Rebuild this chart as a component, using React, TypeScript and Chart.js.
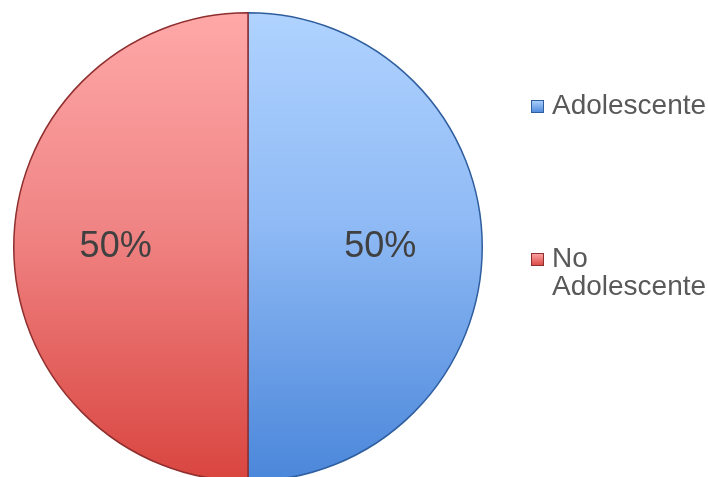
import React, { useEffect, useRef } from "react";
import { Chart, registerables } from "chart.js";

Chart.register(...registerables);

const categories = ["Adolescente", "No Adolescente"];
const values = [50, 50];
const valueLabels = ["50%", "50%"];
const legendLines = [["Adolescente"], ["No", "Adolescente"]];

const gradStops = [
  ["#b0d3ff", "#8fbaf5", "#4a86da"],
  ["#ffa8a8", "#f08585", "#d9453f"],
];
const edgeColors = ["#2f5e9e", "#8e2e2e"];

export default function App() {
  const ref = useRef<HTMLCanvasElement | null>(null);

  useEffect(() => {
    const canvas = ref.current!;
    const labelPlugin = {
      id: "pctLabels",
      afterDatasetsDraw(chart: any) {
        const ctx = chart.ctx;
        const meta = chart.getDatasetMeta(0);
        ctx.save();
        ctx.font = '36px "Liberation Sans", Arial, sans-serif';
        ctx.fillStyle = "#404040";
        ctx.textAlign = "center";
        ctx.textBaseline = "middle";
        meta.data.forEach((arc: any, i: number) => {
          const p = arc.getProps(["x", "y", "startAngle", "endAngle", "outerRadius"], true);
          const mid = (p.startAngle + p.endAngle) / 2;
          const r = p.outerRadius * 0.565;
          ctx.fillText(valueLabels[i], p.x + Math.cos(mid) * r, p.y + Math.sin(mid) * r);
        });
        ctx.restore();
      },
    };
    const legendPlugin = {
      id: "customLegend",
      afterDraw(chart: any) {
        const ctx = chart.ctx;
        ctx.save();
        const starts = [114, 267];
        legendLines.forEach((lines, i) => {
          const base = starts[i];
          const sx = 531, sy = base - 14, s = 13;
          const g = ctx.createLinearGradient(0, sy, 0, sy + s);
          g.addColorStop(0, gradStops[i][0]);
          g.addColorStop(1, gradStops[i][2]);
          ctx.fillStyle = g;
          ctx.fillRect(sx, sy, s, s);
          ctx.strokeStyle = edgeColors[i];
          ctx.lineWidth = 1;
          ctx.strokeRect(sx + 0.5, sy + 0.5, s - 1, s - 1);
          ctx.font = '28px "Liberation Sans", Arial, sans-serif';
          ctx.fillStyle = "#595959";
          ctx.textBaseline = "alphabetic";
          ctx.textAlign = "left";
          lines.forEach((t, j) => {
            ctx.fillText(t, 552, base + j * 28);
          });
        });
        ctx.restore();
      },
    };

    const chart = new Chart(canvas, {
      type: "pie",
      data: {
        labels: categories,
        datasets: [
          {
            data: values,
            backgroundColor: (c: any) => {
              const area = c.chart.chartArea;
              if (!area) return gradStops[c.dataIndex][1];
              const g = c.chart.ctx.createLinearGradient(0, area.top, 0, area.bottom);
              const st = gradStops[c.dataIndex];
              g.addColorStop(0, st[0]);
              g.addColorStop(0.45, st[1]);
              g.addColorStop(1, st[2]);
              return g;
            },
            borderColor: edgeColors,
            borderWidth: 1.5,
          },
        ],
      },
      options: {
        responsive: false,
        animation: false,
        layout: { padding: { left: 13, right: 225, top: 12, bottom: 8 } },
        plugins: {
          legend: { display: false },
          tooltip: { enabled: false },
        },
      },
      plugins: [labelPlugin, legendPlugin],
    });
    return () => chart.destroy();
  }, []);

  return (
    <div style={{ position: "fixed", left: 0, top: 0, width: 708, height: 477, overflow: "hidden", background: "#fff" }}>
      <canvas ref={ref} width={708} height={490} style={{ width: 708, height: 490, display: "block" }} />
    </div>
  );
}
